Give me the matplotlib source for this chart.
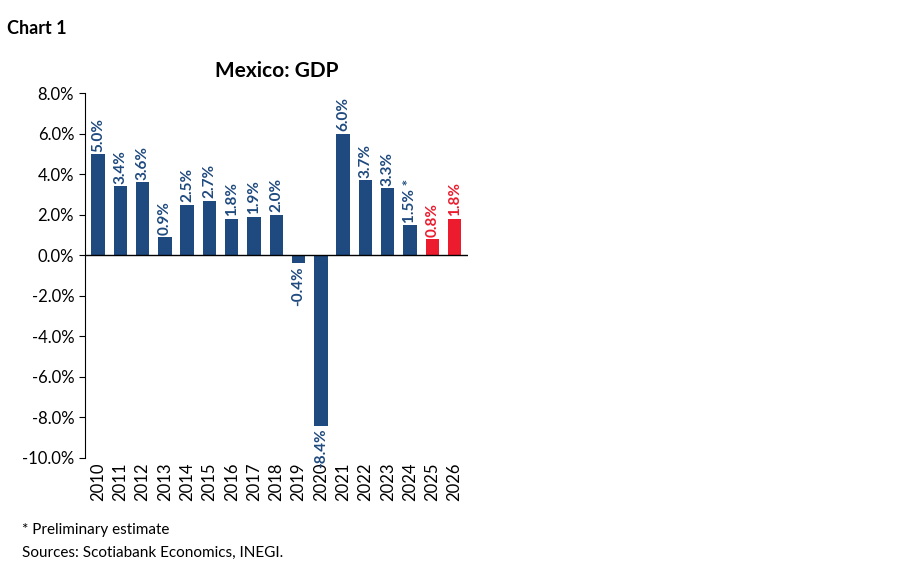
import matplotlib.pyplot as plt

plt.rcParams['font.family'] = ['Lato', 'DejaVu Sans']

years = [str(y) for y in range(2010, 2027)]
gdp = [5.0, 3.4, 3.6, 0.9, 2.5, 2.7, 1.8, 1.9, 2.0, -0.4, -8.4, 6.0, 3.7, 3.3, 1.5, 0.8, 1.8]
labels = ["5.0%", "3.4%", "3.6%", "0.9%", "2.5%", "2.7%", "1.8%", "1.9%", "2.0%",
          "-0.4%", "-8.4%", "6.0%", "3.7%", "3.3%", "1.5% *", "0.8%", "1.8%"]
forecast_years = ["2025", "2026"]

blue = "#1F4A7F"
red = "#EC1C2E"
colors = [red if y in forecast_years else blue for y in years]

fig = plt.figure(figsize=(9, 5.79), dpi=100)
ax = fig.add_axes([0.094, 0.209, 0.426, 0.630])

x = range(len(years))
ax.bar(x, gdp, width=0.6, color=colors)

for i, (v, lab) in enumerate(zip(gdp, labels)):
    if v >= 0:
        ax.text(i, v + 0.12, lab, rotation=90, ha="center", va="bottom",
                color=colors[i], fontsize=11, fontweight="bold")
    else:
        ax.text(i, v - 0.12, lab, rotation=90, ha="center", va="top",
                color=colors[i], fontsize=11, fontweight="bold")

ax.set_ylim(-10, 8)
ax.set_xlim(-0.6, len(years) - 0.4)
ax.set_yticks(range(-10, 9, 2))
ax.set_yticklabels([f"{v:.1f}%" for v in range(-10, 9, 2)], fontsize=12)
ax.set_xticks(list(x))
ax.set_xticklabels(years, rotation=90, fontsize=12)
ax.tick_params(axis="x", length=0, pad=3)
ax.tick_params(axis="y", length=4)
ax.axhline(0, color="black", lw=1)
for s in ["top", "right", "bottom"]:
    ax.spines[s].set_visible(False)

ax.set_title("Mexico: GDP", fontsize=15, fontweight="bold", pad=12)

fig.text(0.008, 0.965, "Chart 1", fontsize=13, fontweight="bold", va="top")
fig.text(0.024, 0.085, "* Preliminary estimate", fontsize=11, va="center")
fig.text(0.024, 0.045, "Sources: Scotiabank Economics, INEGI.", fontsize=11, va="center")

fig.savefig("out.png", dpi=100)
